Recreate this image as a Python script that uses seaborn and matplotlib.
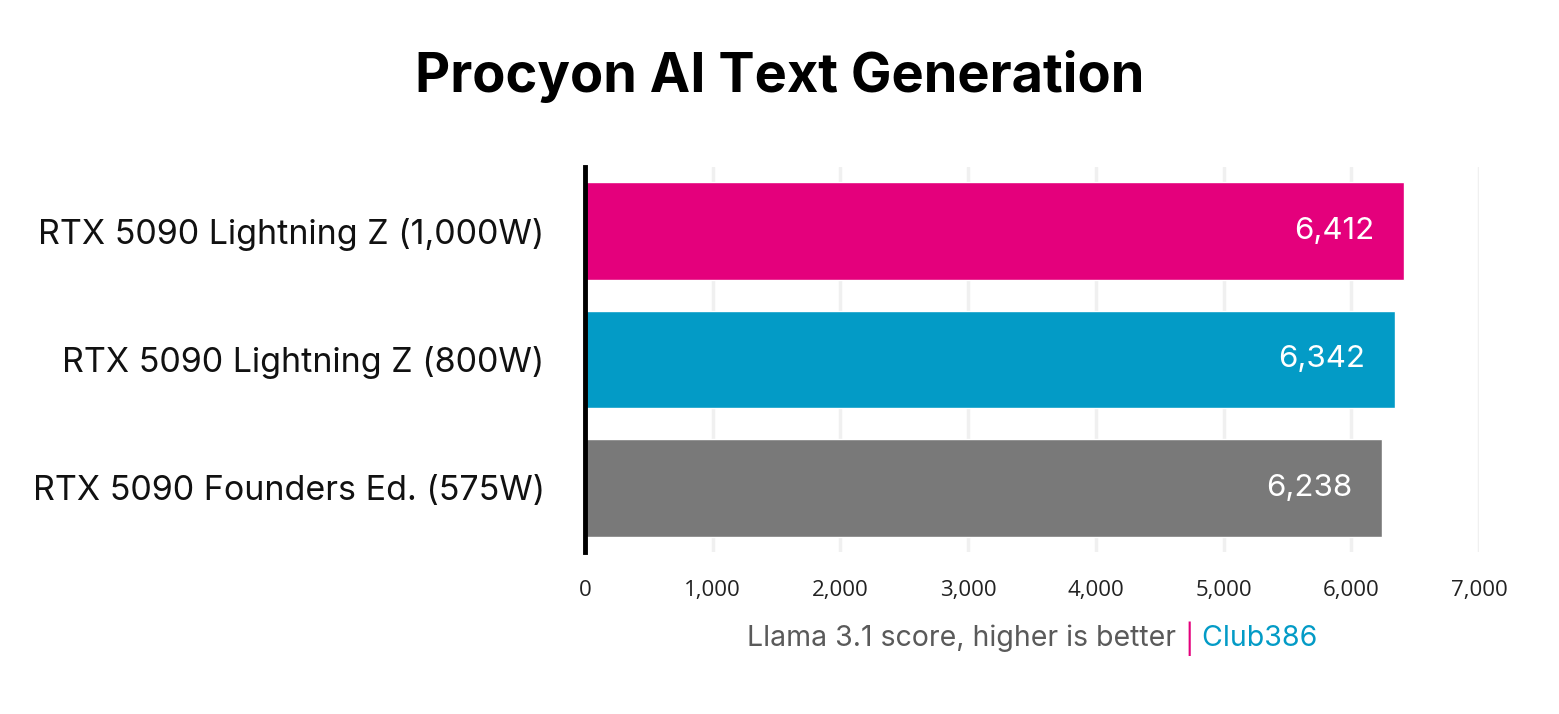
import matplotlib
matplotlib.use("Agg")
import matplotlib.pyplot as plt
import pandas as pd
import seaborn as sns

# chart data
gpus = ["RTX 5090 Lightning Z (1,000W)",
        "RTX 5090 Lightning Z (800W)",
        "RTX 5090 Founders Ed. (575W)"]
scores = [6412, 6342, 6238]
bar_colors = ["#E4007C", "#039BC6", "#797979"]
x_ticks = [0, 1000, 2000, 3000, 4000, 5000, 6000, 7000]

df = pd.DataFrame({"gpu": gpus, "score": scores})

sns.set_theme(style="white")
plt.rcParams["font.family"] = ["Inter", "DejaVu Sans"]

fig = plt.figure(figsize=(15.59, 7.14), dpi=100)
ax = fig.add_axes([0.3752, 0.2269, 0.5735, 0.5392])

sns.barplot(data=df, x="score", y="gpu", hue="gpu", palette=bar_colors,
            legend=False, width=0.76, saturation=1, ax=ax, zorder=3)

ax.set_xlim(0, 7000)
ax.set_ylim(2.5, -0.5)
ax.set_xticks(x_ticks)
ax.set_xticklabels([f"{t:,}" for t in x_ticks], fontsize=16,
                   family=["Open Sans", "DejaVu Sans"], color="#222222")
ax.tick_params(axis="x", length=0, pad=20)
ax.tick_params(axis="y", length=0, pad=29, labelsize=24.5, labelcolor="#111111")
ax.set_xlabel("")
ax.set_ylabel("")

ax.grid(axis="x", color="#F0F0F0", linewidth=2.5, zorder=0)
for s in ["top", "right", "bottom"]:
    ax.spines[s].set_visible(False)
ax.spines["left"].set_color("black")
ax.spines["left"].set_linewidth(3.5)
ax.spines["left"].set_zorder(5)

for i, v in enumerate(scores):
    ax.text(v - 230, i, f"{v:,}", color="white", fontsize=22.5,
            ha="right", va="center", zorder=4)

fig.text(0.5, 0.893, "Procyon AI Text Generation", ha="center", va="center",
         fontsize=39, fontweight="bold", color="black")

# footer caption in three colours
fig.canvas.draw()
r = fig.canvas.get_renderer()
parts = [("Llama 3.1 score, higher is better ", "#5a5a5a"),
         ("|", "#E4007C"),
         (" Club386", "#039BC6")]
texts = [fig.text(0, 0.106, p, fontsize=20.5, color=c, va="center") for p, c in parts]
widths = [t.get_window_extent(r).width for t in texts]
total = sum(widths)
x0 = (1032 - total / 2)
for t, w in zip(texts, widths):
    t.set_x(x0 / fig.bbox.width)
    x0 += w

fig.savefig("out.png", dpi=100)
